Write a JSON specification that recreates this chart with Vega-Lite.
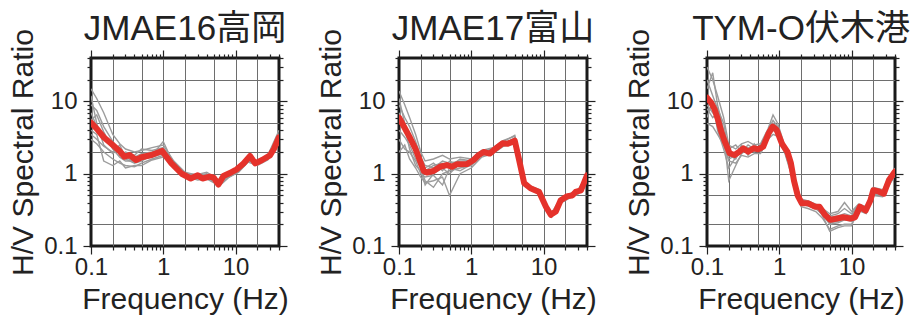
{
  "$schema": "https://vega.github.io/schema/vega-lite/v6.json",
  "padding": {"left": 7, "top": 10, "right": 0, "bottom": 0},
  "background": "white",
  "config": {
    "font": "Liberation Sans, Noto Sans CJK JP",
    "view": {"stroke": "#1a1a1a", "strokeWidth": 3},
    "axis": {
      "labelFont": "Liberation Sans", "labelFontSize": 24, "labelColor": "#222",
      "titleFont": "Liberation Sans", "titleFontSize": 30, "titleColor": "#222", "titleFontWeight": "normal",
      "domain": false, "tickColor": "#222", "tickWidth": 1.2,
      "gridColor": "#6e6e6e", "gridWidth": 1,
      "labelFlush": false, "labelOverlap": false
    },
    "axisX": {"labelPadding": 1, "titlePadding": 5},
    "axisY": {"labelPadding": 6, "titlePadding": 5},
    "title": {"font": "Liberation Sans, Noto Sans CJK JP", "fontSize": 35, "fontWeight": "normal", "color": "#222", "anchor": "middle", "offset": -18},
    "concat": {"spacing": 120}
  },
  "bounds": "flush",
  "data": {"values": [
    {"s":"A","c":0,"f":0.1,"v":5.1},{"s":"A","c":0,"f":0.12,"v":4.2},{"s":"A","c":0,"f":0.15,"v":3.2},{"s":"A","c":0,"f":0.2,"v":2.5},{"s":"A","c":0,"f":0.25,"v":2.05},{"s":"A","c":0,"f":0.29,"v":1.72},{"s":"A","c":0,"f":0.34,"v":1.82},{"s":"A","c":0,"f":0.42,"v":1.55},{"s":"A","c":0,"f":0.5,"v":1.69},{"s":"A","c":0,"f":0.69,"v":1.82},{"s":"A","c":0,"f":0.96,"v":2.07},{"s":"A","c":0,"f":1.3,"v":1.39},{"s":"A","c":0,"f":1.8,"v":1.0},{"s":"A","c":0,"f":2.4,"v":0.86},{"s":"A","c":0,"f":3.0,"v":0.95},{"s":"A","c":0,"f":3.5,"v":0.86},{"s":"A","c":0,"f":4.4,"v":0.91},{"s":"A","c":0,"f":5.0,"v":0.88},{"s":"A","c":0,"f":5.8,"v":0.71},{"s":"A","c":0,"f":6.8,"v":0.93},{"s":"A","c":0,"f":8.8,"v":1.05},{"s":"A","c":0,"f":10.4,"v":1.15},{"s":"A","c":0,"f":12.9,"v":1.39},{"s":"A","c":0,"f":15.9,"v":1.76},{"s":"A","c":0,"f":18.8,"v":1.39},{"s":"A","c":0,"f":23.3,"v":1.55},{"s":"A","c":0,"f":30,"v":1.8},{"s":"A","c":0,"f":34,"v":2.2},{"s":"A","c":0,"f":40,"v":3.2},

    {"s":"A","c":1,"f":0.1,"v":15},{"s":"A","c":1,"f":0.12,"v":11},{"s":"A","c":1,"f":0.15,"v":7},{"s":"A","c":1,"f":0.2,"v":3.5},{"s":"A","c":1,"f":0.25,"v":2.6},{"s":"A","c":1,"f":0.3,"v":2.2},{"s":"A","c":1,"f":0.4,"v":2.0},{"s":"A","c":1,"f":0.5,"v":2.1},{"s":"A","c":1,"f":0.7,"v":2.3},{"s":"A","c":1,"f":1,"v":2.5},{"s":"A","c":1,"f":1.4,"v":1.5},{"s":"A","c":1,"f":2,"v":1.05},{"s":"A","c":1,"f":3,"v":0.95},{"s":"A","c":1,"f":4,"v":1.0},{"s":"A","c":1,"f":6,"v":0.8},{"s":"A","c":1,"f":8,"v":0.98},{"s":"A","c":1,"f":11,"v":1.2},{"s":"A","c":1,"f":15,"v":1.7},{"s":"A","c":1,"f":20,"v":1.5},{"s":"A","c":1,"f":28,"v":1.8},{"s":"A","c":1,"f":40,"v":3.6},
    {"s":"A","c":2,"f":0.1,"v":3.0},{"s":"A","c":2,"f":0.12,"v":2.6},{"s":"A","c":2,"f":0.15,"v":2.0},{"s":"A","c":2,"f":0.2,"v":1.6},{"s":"A","c":2,"f":0.25,"v":1.4},{"s":"A","c":2,"f":0.3,"v":1.3},{"s":"A","c":2,"f":0.4,"v":1.25},{"s":"A","c":2,"f":0.5,"v":1.4},{"s":"A","c":2,"f":0.7,"v":1.6},{"s":"A","c":2,"f":1,"v":1.8},{"s":"A","c":2,"f":1.4,"v":1.2},{"s":"A","c":2,"f":2,"v":0.9},{"s":"A","c":2,"f":3,"v":0.85},{"s":"A","c":2,"f":4,"v":0.88},{"s":"A","c":2,"f":6,"v":0.72},{"s":"A","c":2,"f":8,"v":0.9},{"s":"A","c":2,"f":11,"v":1.05},{"s":"A","c":2,"f":15,"v":1.5},{"s":"A","c":2,"f":20,"v":1.4},{"s":"A","c":2,"f":28,"v":1.6},{"s":"A","c":2,"f":40,"v":2.8},
    {"s":"A","c":3,"f":0.1,"v":9},{"s":"A","c":3,"f":0.12,"v":7.5},{"s":"A","c":3,"f":0.15,"v":4.5},{"s":"A","c":3,"f":0.2,"v":2.8},{"s":"A","c":3,"f":0.25,"v":2.1},{"s":"A","c":3,"f":0.3,"v":1.9},{"s":"A","c":3,"f":0.4,"v":1.7},{"s":"A","c":3,"f":0.5,"v":1.9},{"s":"A","c":3,"f":0.7,"v":2.0},{"s":"A","c":3,"f":1,"v":2.2},{"s":"A","c":3,"f":1.4,"v":1.4},{"s":"A","c":3,"f":2,"v":1.0},{"s":"A","c":3,"f":3,"v":0.92},{"s":"A","c":3,"f":4,"v":0.97},{"s":"A","c":3,"f":6,"v":0.78},{"s":"A","c":3,"f":8,"v":0.95},{"s":"A","c":3,"f":11,"v":1.15},{"s":"A","c":3,"f":15,"v":1.65},{"s":"A","c":3,"f":20,"v":1.5},{"s":"A","c":3,"f":28,"v":1.75},{"s":"A","c":3,"f":40,"v":3.3},
    {"s":"A","c":4,"f":0.1,"v":5.5},{"s":"A","c":4,"f":0.12,"v":6.5},{"s":"A","c":4,"f":0.15,"v":3.8},{"s":"A","c":4,"f":0.2,"v":2.2},{"s":"A","c":4,"f":0.25,"v":1.7},{"s":"A","c":4,"f":0.3,"v":1.5},{"s":"A","c":4,"f":0.4,"v":1.5},{"s":"A","c":4,"f":0.5,"v":1.6},{"s":"A","c":4,"f":0.7,"v":1.7},{"s":"A","c":4,"f":1,"v":1.9},{"s":"A","c":4,"f":1.4,"v":1.3},{"s":"A","c":4,"f":2,"v":0.95},{"s":"A","c":4,"f":3,"v":0.88},{"s":"A","c":4,"f":4,"v":0.9},{"s":"A","c":4,"f":6,"v":0.7},{"s":"A","c":4,"f":8,"v":0.9},{"s":"A","c":4,"f":11,"v":1.1},{"s":"A","c":4,"f":15,"v":1.55},{"s":"A","c":4,"f":20,"v":1.35},{"s":"A","c":4,"f":28,"v":1.65},{"s":"A","c":4,"f":40,"v":3.0},
    {"s":"A","c":5,"f":0.1,"v":12},{"s":"A","c":5,"f":0.12,"v":5},{"s":"A","c":5,"f":0.15,"v":2.5},{"s":"A","c":5,"f":0.2,"v":1.9},{"s":"A","c":5,"f":0.25,"v":2.3},{"s":"A","c":5,"f":0.3,"v":1.6},{"s":"A","c":5,"f":0.4,"v":1.4},{"s":"A","c":5,"f":0.5,"v":1.5},{"s":"A","c":5,"f":0.7,"v":1.8},{"s":"A","c":5,"f":1,"v":2.8},{"s":"A","c":5,"f":1.4,"v":1.35},{"s":"A","c":5,"f":2,"v":1.0},{"s":"A","c":5,"f":3,"v":0.98},{"s":"A","c":5,"f":4,"v":1.05},{"s":"A","c":5,"f":6,"v":0.82},{"s":"A","c":5,"f":8,"v":1.0},{"s":"A","c":5,"f":11,"v":1.15},{"s":"A","c":5,"f":15,"v":1.75},{"s":"A","c":5,"f":20,"v":1.45},{"s":"A","c":5,"f":28,"v":1.8},{"s":"A","c":5,"f":40,"v":4.0},
    {"s":"A","c":6,"f":0.1,"v":4},{"s":"A","c":6,"f":0.12,"v":3.5},{"s":"A","c":6,"f":0.15,"v":1.5},{"s":"A","c":6,"f":0.2,"v":1.3},{"s":"A","c":6,"f":0.25,"v":1.5},{"s":"A","c":6,"f":0.3,"v":1.2},{"s":"A","c":6,"f":0.4,"v":1.3},{"s":"A","c":6,"f":0.5,"v":1.3},{"s":"A","c":6,"f":0.7,"v":1.55},{"s":"A","c":6,"f":1,"v":1.7},{"s":"A","c":6,"f":1.4,"v":1.25},{"s":"A","c":6,"f":2,"v":0.92},{"s":"A","c":6,"f":3,"v":0.82},{"s":"A","c":6,"f":4,"v":0.85},{"s":"A","c":6,"f":6,"v":0.68},{"s":"A","c":6,"f":8,"v":0.88},{"s":"A","c":6,"f":11,"v":1.05},{"s":"A","c":6,"f":15,"v":1.45},{"s":"A","c":6,"f":20,"v":1.3},{"s":"A","c":6,"f":28,"v":1.55},{"s":"A","c":6,"f":40,"v":2.6},
    {"s":"A","c":7,"f":0.1,"v":7},{"s":"A","c":7,"f":0.12,"v":4.5},{"s":"A","c":7,"f":0.15,"v":3.3},{"s":"A","c":7,"f":0.2,"v":2.7},{"s":"A","c":7,"f":0.25,"v":1.8},{"s":"A","c":7,"f":0.3,"v":2.0},{"s":"A","c":7,"f":0.4,"v":1.8},{"s":"A","c":7,"f":0.5,"v":2.2},{"s":"A","c":7,"f":0.7,"v":2.1},{"s":"A","c":7,"f":1,"v":2.3},{"s":"A","c":7,"f":1.4,"v":1.45},{"s":"A","c":7,"f":2,"v":1.02},{"s":"A","c":7,"f":3,"v":0.93},{"s":"A","c":7,"f":4,"v":0.98},{"s":"A","c":7,"f":6,"v":0.8},{"s":"A","c":7,"f":8,"v":0.96},{"s":"A","c":7,"f":11,"v":1.12},{"s":"A","c":7,"f":15,"v":1.6},{"s":"A","c":7,"f":20,"v":1.5},{"s":"A","c":7,"f":28,"v":1.7},{"s":"A","c":7,"f":40,"v":3.4},
    {"s":"A","c":8,"f":0.1,"v":3.5},{"s":"A","c":8,"f":0.12,"v":3.0},{"s":"A","c":8,"f":0.15,"v":2.4},{"s":"A","c":8,"f":0.2,"v":2.0},{"s":"A","c":8,"f":0.25,"v":2.5},{"s":"A","c":8,"f":0.3,"v":1.7},{"s":"A","c":8,"f":0.4,"v":1.45},{"s":"A","c":8,"f":0.5,"v":1.7},{"s":"A","c":8,"f":0.7,"v":1.9},{"s":"A","c":8,"f":1,"v":2.1},{"s":"A","c":8,"f":1.4,"v":1.3},{"s":"A","c":8,"f":2,"v":0.96},{"s":"A","c":8,"f":3,"v":0.86},{"s":"A","c":8,"f":4,"v":0.92},{"s":"A","c":8,"f":6,"v":0.74},{"s":"A","c":8,"f":8,"v":0.92},{"s":"A","c":8,"f":11,"v":1.08},{"s":"A","c":8,"f":15,"v":1.55},{"s":"A","c":8,"f":20,"v":1.4},{"s":"A","c":8,"f":28,"v":1.65},{"s":"A","c":8,"f":40,"v":2.9},

    {"s":"B","c":0,"f":0.1,"v":6.0},{"s":"B","c":0,"f":0.12,"v":4.3},{"s":"B","c":0,"f":0.143,"v":3.1},{"s":"B","c":0,"f":0.168,"v":2.25},{"s":"B","c":0,"f":0.197,"v":1.47},{"s":"B","c":0,"f":0.22,"v":1.09},{"s":"B","c":0,"f":0.243,"v":1.04},{"s":"B","c":0,"f":0.3,"v":1.09},{"s":"B","c":0,"f":0.37,"v":1.25},{"s":"B","c":0,"f":0.46,"v":1.32},{"s":"B","c":0,"f":0.54,"v":1.25},{"s":"B","c":0,"f":0.63,"v":1.35},{"s":"B","c":0,"f":0.87,"v":1.36},{"s":"B","c":0,"f":1.08,"v":1.55},{"s":"B","c":0,"f":1.27,"v":1.82},{"s":"B","c":0,"f":1.48,"v":2.0},{"s":"B","c":0,"f":1.8,"v":1.9},{"s":"B","c":0,"f":2.2,"v":2.25},{"s":"B","c":0,"f":2.7,"v":2.64},{"s":"B","c":0,"f":3.2,"v":2.6},{"s":"B","c":0,"f":4.0,"v":2.87},{"s":"B","c":0,"f":4.6,"v":1.55},{"s":"B","c":0,"f":5.4,"v":0.74},{"s":"B","c":0,"f":6.6,"v":0.63},{"s":"B","c":0,"f":8.7,"v":0.56},{"s":"B","c":0,"f":10.8,"v":0.35},{"s":"B","c":0,"f":12.6,"v":0.27},{"s":"B","c":0,"f":14.8,"v":0.3},{"s":"B","c":0,"f":17.3,"v":0.43},{"s":"B","c":0,"f":21.4,"v":0.49},{"s":"B","c":0,"f":25,"v":0.5},{"s":"B","c":0,"f":27.8,"v":0.56},{"s":"B","c":0,"f":33,"v":0.59},{"s":"B","c":0,"f":40,"v":0.95},

    {"s":"B","c":1,"f":0.1,"v":14},{"s":"B","c":1,"f":0.12,"v":9},{"s":"B","c":1,"f":0.14,"v":6},{"s":"B","c":1,"f":0.17,"v":3.5},{"s":"B","c":1,"f":0.2,"v":2.0},{"s":"B","c":1,"f":0.23,"v":1.5},{"s":"B","c":1,"f":0.3,"v":1.6},{"s":"B","c":1,"f":0.4,"v":1.8},{"s":"B","c":1,"f":0.5,"v":1.6},{"s":"B","c":1,"f":0.7,"v":1.7},{"s":"B","c":1,"f":1,"v":1.6},{"s":"B","c":1,"f":1.4,"v":2.1},{"s":"B","c":1,"f":2,"v":2.3},{"s":"B","c":1,"f":2.8,"v":2.9},{"s":"B","c":1,"f":4,"v":3.3},{"s":"B","c":1,"f":4.6,"v":1.7},{"s":"B","c":1,"f":5.5,"v":0.75},{"s":"B","c":1,"f":7,"v":0.66},{"s":"B","c":1,"f":9,"v":0.6},{"s":"B","c":1,"f":11,"v":0.37},{"s":"B","c":1,"f":13,"v":0.29},{"s":"B","c":1,"f":17,"v":0.45},{"s":"B","c":1,"f":22,"v":0.52},{"s":"B","c":1,"f":30,"v":0.6},{"s":"B","c":1,"f":40,"v":0.95},
    {"s":"B","c":2,"f":0.1,"v":2.0},{"s":"B","c":2,"f":0.12,"v":2.5},{"s":"B","c":2,"f":0.14,"v":1.6},{"s":"B","c":2,"f":0.17,"v":1.2},{"s":"B","c":2,"f":0.2,"v":0.9},{"s":"B","c":2,"f":0.23,"v":0.75},{"s":"B","c":2,"f":0.3,"v":0.8},{"s":"B","c":2,"f":0.4,"v":0.9},{"s":"B","c":2,"f":0.5,"v":0.5},{"s":"B","c":2,"f":0.7,"v":1.0},{"s":"B","c":2,"f":1,"v":1.2},{"s":"B","c":2,"f":1.4,"v":1.7},{"s":"B","c":2,"f":2,"v":1.9},{"s":"B","c":2,"f":2.8,"v":2.4},{"s":"B","c":2,"f":4,"v":2.6},{"s":"B","c":2,"f":4.6,"v":1.5},{"s":"B","c":2,"f":5.5,"v":0.68},{"s":"B","c":2,"f":7,"v":0.58},{"s":"B","c":2,"f":9,"v":0.52},{"s":"B","c":2,"f":11,"v":0.33},{"s":"B","c":2,"f":13,"v":0.25},{"s":"B","c":2,"f":17,"v":0.39},{"s":"B","c":2,"f":22,"v":0.45},{"s":"B","c":2,"f":30,"v":0.52},{"s":"B","c":2,"f":40,"v":0.85},
    {"s":"B","c":3,"f":0.1,"v":9},{"s":"B","c":3,"f":0.12,"v":6},{"s":"B","c":3,"f":0.14,"v":4.5},{"s":"B","c":3,"f":0.17,"v":2.8},{"s":"B","c":3,"f":0.2,"v":1.7},{"s":"B","c":3,"f":0.23,"v":1.3},{"s":"B","c":3,"f":0.3,"v":1.2},{"s":"B","c":3,"f":0.4,"v":1.5},{"s":"B","c":3,"f":0.5,"v":1.4},{"s":"B","c":3,"f":0.7,"v":1.5},{"s":"B","c":3,"f":1,"v":1.5},{"s":"B","c":3,"f":1.4,"v":2.0},{"s":"B","c":3,"f":2,"v":2.2},{"s":"B","c":3,"f":2.8,"v":2.7},{"s":"B","c":3,"f":4,"v":3.0},{"s":"B","c":3,"f":4.6,"v":1.65},{"s":"B","c":3,"f":5.5,"v":0.74},{"s":"B","c":3,"f":7,"v":0.64},{"s":"B","c":3,"f":9,"v":0.57},{"s":"B","c":3,"f":11,"v":0.36},{"s":"B","c":3,"f":13,"v":0.28},{"s":"B","c":3,"f":17,"v":0.43},{"s":"B","c":3,"f":22,"v":0.5},{"s":"B","c":3,"f":30,"v":0.58},{"s":"B","c":3,"f":40,"v":0.92},
    {"s":"B","c":4,"f":0.1,"v":4},{"s":"B","c":4,"f":0.12,"v":3.2},{"s":"B","c":4,"f":0.14,"v":2.5},{"s":"B","c":4,"f":0.17,"v":1.6},{"s":"B","c":4,"f":0.2,"v":1.2},{"s":"B","c":4,"f":0.23,"v":0.8},{"s":"B","c":4,"f":0.3,"v":0.65},{"s":"B","c":4,"f":0.4,"v":1.0},{"s":"B","c":4,"f":0.5,"v":1.1},{"s":"B","c":4,"f":0.7,"v":1.2},{"s":"B","c":4,"f":1,"v":1.3},{"s":"B","c":4,"f":1.4,"v":1.8},{"s":"B","c":4,"f":2,"v":2.0},{"s":"B","c":4,"f":2.8,"v":2.5},{"s":"B","c":4,"f":4,"v":2.7},{"s":"B","c":4,"f":4.6,"v":1.55},{"s":"B","c":4,"f":5.5,"v":0.7},{"s":"B","c":4,"f":7,"v":0.6},{"s":"B","c":4,"f":9,"v":0.53},{"s":"B","c":4,"f":11,"v":0.34},{"s":"B","c":4,"f":13,"v":0.26},{"s":"B","c":4,"f":17,"v":0.4},{"s":"B","c":4,"f":22,"v":0.47},{"s":"B","c":4,"f":30,"v":0.54},{"s":"B","c":4,"f":40,"v":0.88},
    {"s":"B","c":5,"f":0.1,"v":11},{"s":"B","c":5,"f":0.12,"v":5},{"s":"B","c":5,"f":0.14,"v":2.8},{"s":"B","c":5,"f":0.17,"v":2.5},{"s":"B","c":5,"f":0.2,"v":1.3},{"s":"B","c":5,"f":0.23,"v":1.2},{"s":"B","c":5,"f":0.3,"v":1.4},{"s":"B","c":5,"f":0.4,"v":1.1},{"s":"B","c":5,"f":0.5,"v":1.5},{"s":"B","c":5,"f":0.7,"v":1.3},{"s":"B","c":5,"f":1,"v":1.45},{"s":"B","c":5,"f":1.4,"v":1.95},{"s":"B","c":5,"f":2,"v":2.15},{"s":"B","c":5,"f":2.8,"v":2.65},{"s":"B","c":5,"f":4,"v":3.1},{"s":"B","c":5,"f":4.6,"v":1.6},{"s":"B","c":5,"f":5.5,"v":0.73},{"s":"B","c":5,"f":7,"v":0.63},{"s":"B","c":5,"f":9,"v":0.56},{"s":"B","c":5,"f":11,"v":0.35},{"s":"B","c":5,"f":13,"v":0.27},{"s":"B","c":5,"f":17,"v":0.42},{"s":"B","c":5,"f":22,"v":0.49},{"s":"B","c":5,"f":30,"v":0.57},{"s":"B","c":5,"f":40,"v":0.9},
    {"s":"B","c":6,"f":0.1,"v":3},{"s":"B","c":6,"f":0.12,"v":2.2},{"s":"B","c":6,"f":0.14,"v":2.0},{"s":"B","c":6,"f":0.17,"v":1.5},{"s":"B","c":6,"f":0.2,"v":1.0},{"s":"B","c":6,"f":0.23,"v":0.9},{"s":"B","c":6,"f":0.3,"v":0.95},{"s":"B","c":6,"f":0.4,"v":0.7},{"s":"B","c":6,"f":0.5,"v":1.2},{"s":"B","c":6,"f":0.7,"v":1.1},{"s":"B","c":6,"f":1,"v":1.35},{"s":"B","c":6,"f":1.4,"v":1.85},{"s":"B","c":6,"f":2,"v":2.05},{"s":"B","c":6,"f":2.8,"v":2.5},{"s":"B","c":6,"f":4,"v":2.8},{"s":"B","c":6,"f":4.6,"v":1.58},{"s":"B","c":6,"f":5.5,"v":0.71},{"s":"B","c":6,"f":7,"v":0.61},{"s":"B","c":6,"f":9,"v":0.54},{"s":"B","c":6,"f":11,"v":0.34},{"s":"B","c":6,"f":13,"v":0.27},{"s":"B","c":6,"f":17,"v":0.41},{"s":"B","c":6,"f":22,"v":0.47},{"s":"B","c":6,"f":30,"v":0.55},{"s":"B","c":6,"f":40,"v":0.87},
    {"s":"B","c":7,"f":0.1,"v":7},{"s":"B","c":7,"f":0.12,"v":4},{"s":"B","c":7,"f":0.14,"v":3.5},{"s":"B","c":7,"f":0.17,"v":2.0},{"s":"B","c":7,"f":0.2,"v":1.6},{"s":"B","c":7,"f":0.23,"v":1.1},{"s":"B","c":7,"f":0.3,"v":1.3},{"s":"B","c":7,"f":0.4,"v":1.4},{"s":"B","c":7,"f":0.5,"v":1.25},{"s":"B","c":7,"f":0.7,"v":1.6},{"s":"B","c":7,"f":1,"v":1.5},{"s":"B","c":7,"f":1.4,"v":2.0},{"s":"B","c":7,"f":2,"v":2.2},{"s":"B","c":7,"f":2.8,"v":2.8},{"s":"B","c":7,"f":4,"v":3.4},{"s":"B","c":7,"f":4.6,"v":1.7},{"s":"B","c":7,"f":5.5,"v":0.76},{"s":"B","c":7,"f":7,"v":0.65},{"s":"B","c":7,"f":9,"v":0.58},{"s":"B","c":7,"f":11,"v":0.37},{"s":"B","c":7,"f":13,"v":0.28},{"s":"B","c":7,"f":17,"v":0.44},{"s":"B","c":7,"f":22,"v":0.5},{"s":"B","c":7,"f":30,"v":0.59},{"s":"B","c":7,"f":40,"v":0.94},
    {"s":"B","c":8,"f":0.1,"v":5},{"s":"B","c":8,"f":0.12,"v":4.5},{"s":"B","c":8,"f":0.14,"v":2.2},{"s":"B","c":8,"f":0.17,"v":1.3},{"s":"B","c":8,"f":0.2,"v":1.1},{"s":"B","c":8,"f":0.23,"v":0.7},{"s":"B","c":8,"f":0.3,"v":1.0},{"s":"B","c":8,"f":0.4,"v":1.2},{"s":"B","c":8,"f":0.5,"v":1.0},{"s":"B","c":8,"f":0.7,"v":1.4},{"s":"B","c":8,"f":1,"v":1.3},{"s":"B","c":8,"f":1.4,"v":1.8},{"s":"B","c":8,"f":2,"v":2.0},{"s":"B","c":8,"f":2.8,"v":2.5},{"s":"B","c":8,"f":4,"v":2.75},{"s":"B","c":8,"f":4.6,"v":1.5},{"s":"B","c":8,"f":5.5,"v":0.69},{"s":"B","c":8,"f":7,"v":0.59},{"s":"B","c":8,"f":9,"v":0.53},{"s":"B","c":8,"f":11,"v":0.33},{"s":"B","c":8,"f":13,"v":0.26},{"s":"B","c":8,"f":17,"v":0.4},{"s":"B","c":8,"f":22,"v":0.46},{"s":"B","c":8,"f":30,"v":0.54},{"s":"B","c":8,"f":40,"v":0.86},

    {"s":"C","c":0,"f":0.1,"v":11.3},{"s":"C","c":0,"f":0.115,"v":9.5},{"s":"C","c":0,"f":0.128,"v":7.7},{"s":"C","c":0,"f":0.142,"v":5.6},{"s":"C","c":0,"f":0.158,"v":3.8},{"s":"C","c":0,"f":0.176,"v":2.8},{"s":"C","c":0,"f":0.206,"v":1.92},{"s":"C","c":0,"f":0.24,"v":1.82},{"s":"C","c":0,"f":0.28,"v":2.02},{"s":"C","c":0,"f":0.32,"v":2.25},{"s":"C","c":0,"f":0.37,"v":2.02},{"s":"C","c":0,"f":0.44,"v":2.25},{"s":"C","c":0,"f":0.51,"v":2.18},{"s":"C","c":0,"f":0.6,"v":2.37},{"s":"C","c":0,"f":0.71,"v":3.6},{"s":"C","c":0,"f":0.81,"v":4.5},{"s":"C","c":0,"f":0.92,"v":4.05},{"s":"C","c":0,"f":1.09,"v":2.6},{"s":"C","c":0,"f":1.3,"v":2.0},{"s":"C","c":0,"f":1.45,"v":1.4},{"s":"C","c":0,"f":1.6,"v":0.8},{"s":"C","c":0,"f":1.8,"v":0.5},{"s":"C","c":0,"f":2.05,"v":0.39},{"s":"C","c":0,"f":2.53,"v":0.39},{"s":"C","c":0,"f":3.1,"v":0.35},{"s":"C","c":0,"f":3.6,"v":0.35},{"s":"C","c":0,"f":4.3,"v":0.27},{"s":"C","c":0,"f":5.1,"v":0.23},{"s":"C","c":0,"f":6.3,"v":0.24},{"s":"C","c":0,"f":7.7,"v":0.25},{"s":"C","c":0,"f":9.6,"v":0.24},{"s":"C","c":0,"f":11.2,"v":0.25},{"s":"C","c":0,"f":13.1,"v":0.35},{"s":"C","c":0,"f":15.7,"v":0.31},{"s":"C","c":0,"f":18.3,"v":0.43},{"s":"C","c":0,"f":20,"v":0.59},{"s":"C","c":0,"f":23.8,"v":0.57},{"s":"C","c":0,"f":28,"v":0.53},{"s":"C","c":0,"f":33,"v":0.82},{"s":"C","c":0,"f":40,"v":1.07},

    {"s":"C","c":1,"f":0.1,"v":30},{"s":"C","c":1,"f":0.12,"v":20},{"s":"C","c":1,"f":0.14,"v":12},{"s":"C","c":1,"f":0.17,"v":6},{"s":"C","c":1,"f":0.2,"v":2.5},{"s":"C","c":1,"f":0.25,"v":2.2},{"s":"C","c":1,"f":0.3,"v":2.6},{"s":"C","c":1,"f":0.37,"v":2.8},{"s":"C","c":1,"f":0.45,"v":2.5},{"s":"C","c":1,"f":0.55,"v":2.6},{"s":"C","c":1,"f":0.7,"v":4.2},{"s":"C","c":1,"f":0.82,"v":6.5},{"s":"C","c":1,"f":0.95,"v":5.0},{"s":"C","c":1,"f":1.2,"v":2.4},{"s":"C","c":1,"f":1.5,"v":1.1},{"s":"C","c":1,"f":2,"v":0.45},{"s":"C","c":1,"f":2.5,"v":0.42},{"s":"C","c":1,"f":3.2,"v":0.38},{"s":"C","c":1,"f":4,"v":0.33},{"s":"C","c":1,"f":5,"v":0.28},{"s":"C","c":1,"f":6.5,"v":0.3},{"s":"C","c":1,"f":8,"v":0.4},{"s":"C","c":1,"f":10,"v":0.3},{"s":"C","c":1,"f":12.5,"v":0.38},{"s":"C","c":1,"f":16,"v":0.35},{"s":"C","c":1,"f":20,"v":0.65},{"s":"C","c":1,"f":27,"v":0.6},{"s":"C","c":1,"f":40,"v":1.2},
    {"s":"C","c":2,"f":0.1,"v":5},{"s":"C","c":2,"f":0.12,"v":4.5},{"s":"C","c":2,"f":0.14,"v":3.5},{"s":"C","c":2,"f":0.17,"v":2.5},{"s":"C","c":2,"f":0.2,"v":1.5},{"s":"C","c":2,"f":0.25,"v":1.4},{"s":"C","c":2,"f":0.3,"v":1.8},{"s":"C","c":2,"f":0.37,"v":1.7},{"s":"C","c":2,"f":0.45,"v":1.9},{"s":"C","c":2,"f":0.55,"v":1.9},{"s":"C","c":2,"f":0.7,"v":3.0},{"s":"C","c":2,"f":0.82,"v":3.5},{"s":"C","c":2,"f":0.95,"v":3.3},{"s":"C","c":2,"f":1.2,"v":1.9},{"s":"C","c":2,"f":1.5,"v":0.9},{"s":"C","c":2,"f":2,"v":0.35},{"s":"C","c":2,"f":2.5,"v":0.33},{"s":"C","c":2,"f":3.2,"v":0.3},{"s":"C","c":2,"f":4,"v":0.24},{"s":"C","c":2,"f":5,"v":0.17},{"s":"C","c":2,"f":6.5,"v":0.19},{"s":"C","c":2,"f":8,"v":0.2},{"s":"C","c":2,"f":10,"v":0.2},{"s":"C","c":2,"f":12.5,"v":0.31},{"s":"C","c":2,"f":16,"v":0.28},{"s":"C","c":2,"f":20,"v":0.5},{"s":"C","c":2,"f":27,"v":0.48},{"s":"C","c":2,"f":40,"v":0.95},
    {"s":"C","c":3,"f":0.1,"v":15},{"s":"C","c":3,"f":0.12,"v":25},{"s":"C","c":3,"f":0.14,"v":9},{"s":"C","c":3,"f":0.17,"v":4},{"s":"C","c":3,"f":0.2,"v":1.8},{"s":"C","c":3,"f":0.25,"v":1.6},{"s":"C","c":3,"f":0.3,"v":2.3},{"s":"C","c":3,"f":0.37,"v":2.0},{"s":"C","c":3,"f":0.45,"v":2.4},{"s":"C","c":3,"f":0.55,"v":2.1},{"s":"C","c":3,"f":0.7,"v":3.8},{"s":"C","c":3,"f":0.82,"v":5.0},{"s":"C","c":3,"f":0.95,"v":4.2},{"s":"C","c":3,"f":1.2,"v":2.2},{"s":"C","c":3,"f":1.5,"v":1.05},{"s":"C","c":3,"f":2,"v":0.42},{"s":"C","c":3,"f":2.5,"v":0.4},{"s":"C","c":3,"f":3.2,"v":0.36},{"s":"C","c":3,"f":4,"v":0.3},{"s":"C","c":3,"f":5,"v":0.25},{"s":"C","c":3,"f":6.5,"v":0.26},{"s":"C","c":3,"f":8,"v":0.28},{"s":"C","c":3,"f":10,"v":0.26},{"s":"C","c":3,"f":12.5,"v":0.36},{"s":"C","c":3,"f":16,"v":0.32},{"s":"C","c":3,"f":20,"v":0.6},{"s":"C","c":3,"f":27,"v":0.55},{"s":"C","c":3,"f":40,"v":1.1},
    {"s":"C","c":4,"f":0.1,"v":8},{"s":"C","c":4,"f":0.12,"v":6},{"s":"C","c":4,"f":0.14,"v":7},{"s":"C","c":4,"f":0.17,"v":3.5},{"s":"C","c":4,"f":0.2,"v":0.8},{"s":"C","c":4,"f":0.25,"v":1.3},{"s":"C","c":4,"f":0.3,"v":1.9},{"s":"C","c":4,"f":0.37,"v":2.2},{"s":"C","c":4,"f":0.45,"v":2.0},{"s":"C","c":4,"f":0.55,"v":2.3},{"s":"C","c":4,"f":0.7,"v":3.2},{"s":"C","c":4,"f":0.82,"v":4.0},{"s":"C","c":4,"f":0.95,"v":3.6},{"s":"C","c":4,"f":1.2,"v":2.0},{"s":"C","c":4,"f":1.5,"v":0.95},{"s":"C","c":4,"f":2,"v":0.38},{"s":"C","c":4,"f":2.5,"v":0.36},{"s":"C","c":4,"f":3.2,"v":0.33},{"s":"C","c":4,"f":4,"v":0.27},{"s":"C","c":4,"f":5,"v":0.2},{"s":"C","c":4,"f":6.5,"v":0.21},{"s":"C","c":4,"f":8,"v":0.23},{"s":"C","c":4,"f":10,"v":0.22},{"s":"C","c":4,"f":12.5,"v":0.33},{"s":"C","c":4,"f":16,"v":0.29},{"s":"C","c":4,"f":20,"v":0.55},{"s":"C","c":4,"f":27,"v":0.5},{"s":"C","c":4,"f":40,"v":1.0},
    {"s":"C","c":5,"f":0.1,"v":12},{"s":"C","c":5,"f":0.12,"v":9},{"s":"C","c":5,"f":0.14,"v":5},{"s":"C","c":5,"f":0.17,"v":2.8},{"s":"C","c":5,"f":0.2,"v":2.2},{"s":"C","c":5,"f":0.25,"v":2.5},{"s":"C","c":5,"f":0.3,"v":2.0},{"s":"C","c":5,"f":0.37,"v":2.5},{"s":"C","c":5,"f":0.45,"v":2.2},{"s":"C","c":5,"f":0.55,"v":2.4},{"s":"C","c":5,"f":0.7,"v":3.6},{"s":"C","c":5,"f":0.82,"v":4.8},{"s":"C","c":5,"f":0.95,"v":4.0},{"s":"C","c":5,"f":1.2,"v":2.1},{"s":"C","c":5,"f":1.5,"v":1.0},{"s":"C","c":5,"f":2,"v":0.4},{"s":"C","c":5,"f":2.5,"v":0.37},{"s":"C","c":5,"f":3.2,"v":0.34},{"s":"C","c":5,"f":4,"v":0.28},{"s":"C","c":5,"f":5,"v":0.22},{"s":"C","c":5,"f":6.5,"v":0.24},{"s":"C","c":5,"f":8,"v":0.26},{"s":"C","c":5,"f":10,"v":0.24},{"s":"C","c":5,"f":12.5,"v":0.34},{"s":"C","c":5,"f":16,"v":0.3},{"s":"C","c":5,"f":20,"v":0.58},{"s":"C","c":5,"f":27,"v":0.53},{"s":"C","c":5,"f":40,"v":1.05},
    {"s":"C","c":6,"f":0.1,"v":6},{"s":"C","c":6,"f":0.12,"v":10},{"s":"C","c":6,"f":0.14,"v":4},{"s":"C","c":6,"f":0.17,"v":2.2},{"s":"C","c":6,"f":0.2,"v":1.2},{"s":"C","c":6,"f":0.25,"v":1.7},{"s":"C","c":6,"f":0.3,"v":2.5},{"s":"C","c":6,"f":0.37,"v":1.8},{"s":"C","c":6,"f":0.45,"v":2.6},{"s":"C","c":6,"f":0.55,"v":2.0},{"s":"C","c":6,"f":0.7,"v":3.3},{"s":"C","c":6,"f":0.82,"v":4.3},{"s":"C","c":6,"f":0.95,"v":3.7},{"s":"C","c":6,"f":1.2,"v":2.0},{"s":"C","c":6,"f":1.5,"v":0.97},{"s":"C","c":6,"f":2,"v":0.39},{"s":"C","c":6,"f":2.5,"v":0.38},{"s":"C","c":6,"f":3.2,"v":0.35},{"s":"C","c":6,"f":4,"v":0.26},{"s":"C","c":6,"f":5,"v":0.16},{"s":"C","c":6,"f":6.5,"v":0.18},{"s":"C","c":6,"f":8,"v":0.19},{"s":"C","c":6,"f":10,"v":0.19},{"s":"C","c":6,"f":12.5,"v":0.32},{"s":"C","c":6,"f":16,"v":0.29},{"s":"C","c":6,"f":20,"v":0.52},{"s":"C","c":6,"f":27,"v":0.5},{"s":"C","c":6,"f":40,"v":0.98},
    {"s":"C","c":7,"f":0.1,"v":20},{"s":"C","c":7,"f":0.12,"v":12},{"s":"C","c":7,"f":0.14,"v":8},{"s":"C","c":7,"f":0.17,"v":5},{"s":"C","c":7,"f":0.2,"v":2.0},{"s":"C","c":7,"f":0.25,"v":1.9},{"s":"C","c":7,"f":0.3,"v":2.2},{"s":"C","c":7,"f":0.37,"v":2.3},{"s":"C","c":7,"f":0.45,"v":2.1},{"s":"C","c":7,"f":0.55,"v":2.5},{"s":"C","c":7,"f":0.7,"v":4.0},{"s":"C","c":7,"f":0.82,"v":5.5},{"s":"C","c":7,"f":0.95,"v":4.5},{"s":"C","c":7,"f":1.2,"v":2.3},{"s":"C","c":7,"f":1.5,"v":1.05},{"s":"C","c":7,"f":2,"v":0.43},{"s":"C","c":7,"f":2.5,"v":0.41},{"s":"C","c":7,"f":3.2,"v":0.37},{"s":"C","c":7,"f":4,"v":0.32},{"s":"C","c":7,"f":5,"v":0.26},{"s":"C","c":7,"f":6.5,"v":0.28},{"s":"C","c":7,"f":8,"v":0.33},{"s":"C","c":7,"f":10,"v":0.28},{"s":"C","c":7,"f":12.5,"v":0.37},{"s":"C","c":7,"f":16,"v":0.33},{"s":"C","c":7,"f":20,"v":0.62},{"s":"C","c":7,"f":27,"v":0.57},{"s":"C","c":7,"f":40,"v":1.15},
    {"s":"C","c":8,"f":0.1,"v":9},{"s":"C","c":8,"f":0.12,"v":7},{"s":"C","c":8,"f":0.14,"v":6},{"s":"C","c":8,"f":0.17,"v":3.0},{"s":"C","c":8,"f":0.2,"v":1.6},{"s":"C","c":8,"f":0.25,"v":1.8},{"s":"C","c":8,"f":0.3,"v":2.1},{"s":"C","c":8,"f":0.37,"v":2.1},{"s":"C","c":8,"f":0.45,"v":2.3},{"s":"C","c":8,"f":0.55,"v":2.2},{"s":"C","c":8,"f":0.7,"v":3.4},{"s":"C","c":8,"f":0.82,"v":4.3},{"s":"C","c":8,"f":0.95,"v":3.8},{"s":"C","c":8,"f":1.2,"v":2.05},{"s":"C","c":8,"f":1.5,"v":1.0},{"s":"C","c":8,"f":2,"v":0.38},{"s":"C","c":8,"f":2.5,"v":0.36},{"s":"C","c":8,"f":3.2,"v":0.33},{"s":"C","c":8,"f":4,"v":0.27},{"s":"C","c":8,"f":5,"v":0.21},{"s":"C","c":8,"f":6.5,"v":0.22},{"s":"C","c":8,"f":8,"v":0.24},{"s":"C","c":8,"f":10,"v":0.23},{"s":"C","c":8,"f":12.5,"v":0.33},{"s":"C","c":8,"f":16,"v":0.3},{"s":"C","c":8,"f":20,"v":0.56},{"s":"C","c":8,"f":27,"v":0.52},{"s":"C","c":8,"f":40,"v":1.02}
  ]},
  "hconcat": [
    {
      "title": "JMAE16高岡",
      "width": 188, "height": 188,
      "transform": [{"filter": "datum.s=='A'"}],
      "layer": [
        {"transform": [{"filter": "datum.c>0"}],
         "mark": {"type": "line", "color": "#9c9c9c", "strokeWidth": 1.4, "clip": true},
         "encoding": {
           "x": {"field": "f", "type": "quantitative", "scale": {"type": "log", "domain": [0.1, 40], "nice": false},
                 "axis": {"orient": "bottom", "values": [0.1,0.2,0.3,0.4,0.5,0.6,0.7,0.8,0.9,1,2,3,4,5,6,7,8,9,10,20,30,40], "title": "Frequency (Hz)", "labelExpr": "datum.value==0.1?'0.1':datum.value==1?'1':datum.value==10?'10':''", "tickSize": {"condition": {"test": "datum.value==0.1||datum.value==1||datum.value==10", "value": 8}, "value": 4}, "grid": true, "gridOpacity": {"condition": {"test": "indexof([0.2,0.5,1,2,5,10,20],datum.value)>=0", "value": 1}, "value": 0}}},
           "y": {"field": "v", "type": "quantitative", "scale": {"type": "log", "domain": [0.1, 40], "nice": false},
                 "axis": {"orient": "left", "values": [0.1,0.2,0.3,0.4,0.5,0.6,0.7,0.8,0.9,1,2,3,4,5,6,7,8,9,10,20,30,40], "title": "H/V Spectral Ratio", "labelExpr": "datum.value==0.1?'0.1':datum.value==1?'1':datum.value==10?'10':''", "tickSize": {"condition": {"test": "datum.value==0.1||datum.value==1||datum.value==10", "value": 8}, "value": 4}, "grid": true, "gridOpacity": {"condition": {"test": "indexof([0.2,0.5,1,2,5,10,20],datum.value)>=0", "value": 1}, "value": 0}}},
           "detail": {"field": "c"}
         }},
        {"transform": [{"filter": "datum.c==0"}],
         "mark": {"type": "line", "color": "#e5322b", "strokeWidth": 6, "clip": true, "strokeCap": "round", "strokeJoin": "round"},
         "encoding": {
           "x": {"field": "f", "type": "quantitative", "scale": {"type": "log", "domain": [0.1, 40], "nice": false},
                 "axis": {"orient": "top", "values": [0.1,0.2,0.3,0.4,0.5,0.6,0.7,0.8,0.9,1,2,3,4,5,6,7,8,9,10,20,30,40], "title": null, "labels": false, "grid": false, "tickSize": {"condition": {"test": "datum.value==0.1||datum.value==1||datum.value==10", "value": 8}, "value": 4}}},
           "y": {"field": "v", "type": "quantitative", "scale": {"type": "log", "domain": [0.1, 40], "nice": false},
                 "axis": {"orient": "right", "values": [0.1,0.2,0.3,0.4,0.5,0.6,0.7,0.8,0.9,1,2,3,4,5,6,7,8,9,10,20,30,40], "title": null, "labels": false, "grid": false, "tickSize": {"condition": {"test": "datum.value==0.1||datum.value==1||datum.value==10", "value": 8}, "value": 4}}}
         }}
      ],
      "resolve": {"axis": {"x": "independent", "y": "independent"}}
    },
    {
      "title": "JMAE17富山",
      "width": 188, "height": 188,
      "transform": [{"filter": "datum.s=='B'"}],
      "layer": [
        {"transform": [{"filter": "datum.c>0"}],
         "mark": {"type": "line", "color": "#9c9c9c", "strokeWidth": 1.4, "clip": true},
         "encoding": {
           "x": {"field": "f", "type": "quantitative", "scale": {"type": "log", "domain": [0.1, 40], "nice": false},
                 "axis": {"orient": "bottom", "values": [0.1,0.2,0.3,0.4,0.5,0.6,0.7,0.8,0.9,1,2,3,4,5,6,7,8,9,10,20,30,40], "title": "Frequency (Hz)", "labelExpr": "datum.value==0.1?'0.1':datum.value==1?'1':datum.value==10?'10':''", "tickSize": {"condition": {"test": "datum.value==0.1||datum.value==1||datum.value==10", "value": 8}, "value": 4}, "grid": true, "gridOpacity": {"condition": {"test": "indexof([0.2,0.5,1,2,5,10,20],datum.value)>=0", "value": 1}, "value": 0}}},
           "y": {"field": "v", "type": "quantitative", "scale": {"type": "log", "domain": [0.1, 40], "nice": false},
                 "axis": {"orient": "left", "values": [0.1,0.2,0.3,0.4,0.5,0.6,0.7,0.8,0.9,1,2,3,4,5,6,7,8,9,10,20,30,40], "title": "H/V Spectral Ratio", "labelExpr": "datum.value==0.1?'0.1':datum.value==1?'1':datum.value==10?'10':''", "tickSize": {"condition": {"test": "datum.value==0.1||datum.value==1||datum.value==10", "value": 8}, "value": 4}, "grid": true, "gridOpacity": {"condition": {"test": "indexof([0.2,0.5,1,2,5,10,20],datum.value)>=0", "value": 1}, "value": 0}}},
           "detail": {"field": "c"}
         }},
        {"transform": [{"filter": "datum.c==0"}],
         "mark": {"type": "line", "color": "#e5322b", "strokeWidth": 6, "clip": true, "strokeCap": "round", "strokeJoin": "round"},
         "encoding": {
           "x": {"field": "f", "type": "quantitative", "scale": {"type": "log", "domain": [0.1, 40], "nice": false},
                 "axis": {"orient": "top", "values": [0.1,0.2,0.3,0.4,0.5,0.6,0.7,0.8,0.9,1,2,3,4,5,6,7,8,9,10,20,30,40], "title": null, "labels": false, "grid": false, "tickSize": {"condition": {"test": "datum.value==0.1||datum.value==1||datum.value==10", "value": 8}, "value": 4}}},
           "y": {"field": "v", "type": "quantitative", "scale": {"type": "log", "domain": [0.1, 40], "nice": false},
                 "axis": {"orient": "right", "values": [0.1,0.2,0.3,0.4,0.5,0.6,0.7,0.8,0.9,1,2,3,4,5,6,7,8,9,10,20,30,40], "title": null, "labels": false, "grid": false, "tickSize": {"condition": {"test": "datum.value==0.1||datum.value==1||datum.value==10", "value": 8}, "value": 4}}}
         }}
      ],
      "resolve": {"axis": {"x": "independent", "y": "independent"}}
    },
    {
      "title": "TYM-O伏木港",
      "width": 188, "height": 188,
      "transform": [{"filter": "datum.s=='C'"}],
      "layer": [
        {"transform": [{"filter": "datum.c>0"}],
         "mark": {"type": "line", "color": "#9c9c9c", "strokeWidth": 1.4, "clip": true},
         "encoding": {
           "x": {"field": "f", "type": "quantitative", "scale": {"type": "log", "domain": [0.1, 40], "nice": false},
                 "axis": {"orient": "bottom", "values": [0.1,0.2,0.3,0.4,0.5,0.6,0.7,0.8,0.9,1,2,3,4,5,6,7,8,9,10,20,30,40], "title": "Frequency (Hz)", "labelExpr": "datum.value==0.1?'0.1':datum.value==1?'1':datum.value==10?'10':''", "tickSize": {"condition": {"test": "datum.value==0.1||datum.value==1||datum.value==10", "value": 8}, "value": 4}, "grid": true, "gridOpacity": {"condition": {"test": "indexof([0.2,0.5,1,2,5,10,20],datum.value)>=0", "value": 1}, "value": 0}}},
           "y": {"field": "v", "type": "quantitative", "scale": {"type": "log", "domain": [0.1, 40], "nice": false},
                 "axis": {"orient": "left", "values": [0.1,0.2,0.3,0.4,0.5,0.6,0.7,0.8,0.9,1,2,3,4,5,6,7,8,9,10,20,30,40], "title": "H/V Spectral Ratio", "labelExpr": "datum.value==0.1?'0.1':datum.value==1?'1':datum.value==10?'10':''", "tickSize": {"condition": {"test": "datum.value==0.1||datum.value==1||datum.value==10", "value": 8}, "value": 4}, "grid": true, "gridOpacity": {"condition": {"test": "indexof([0.2,0.5,1,2,5,10,20],datum.value)>=0", "value": 1}, "value": 0}}},
           "detail": {"field": "c"}
         }},
        {"transform": [{"filter": "datum.c==0"}],
         "mark": {"type": "line", "color": "#e5322b", "strokeWidth": 6, "clip": true, "strokeCap": "round", "strokeJoin": "round"},
         "encoding": {
           "x": {"field": "f", "type": "quantitative", "scale": {"type": "log", "domain": [0.1, 40], "nice": false},
                 "axis": {"orient": "top", "values": [0.1,0.2,0.3,0.4,0.5,0.6,0.7,0.8,0.9,1,2,3,4,5,6,7,8,9,10,20,30,40], "title": null, "labels": false, "grid": false, "tickSize": {"condition": {"test": "datum.value==0.1||datum.value==1||datum.value==10", "value": 8}, "value": 4}}},
           "y": {"field": "v", "type": "quantitative", "scale": {"type": "log", "domain": [0.1, 40], "nice": false},
                 "axis": {"orient": "right", "values": [0.1,0.2,0.3,0.4,0.5,0.6,0.7,0.8,0.9,1,2,3,4,5,6,7,8,9,10,20,30,40], "title": null, "labels": false, "grid": false, "tickSize": {"condition": {"test": "datum.value==0.1||datum.value==1||datum.value==10", "value": 8}, "value": 4}}}
         }}
      ],
      "resolve": {"axis": {"x": "independent", "y": "independent"}}
    }
  ]
}
